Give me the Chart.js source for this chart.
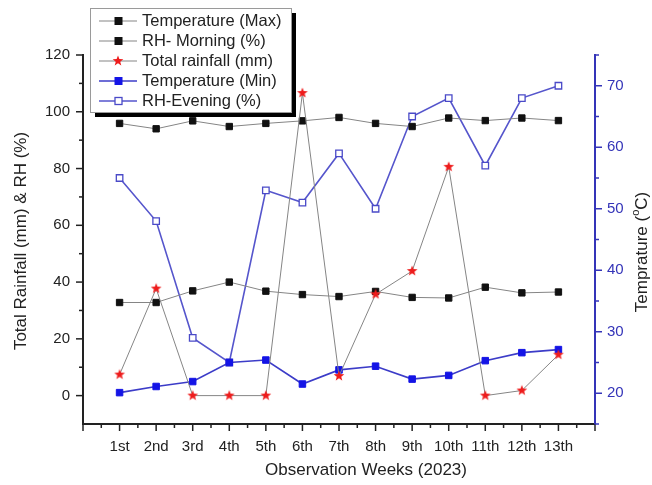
<!DOCTYPE html>
<html>
<head>
<meta charset="utf-8">
<script src="https://cdn.jsdelivr.net/npm/chart.js@4.4.0/dist/chart.umd.min.js"></script>
<style>
  html, body { margin: 0; padding: 0; background: #fff; }
  #wrap { width: 652px; height: 485px; }
</style>
</head>
<body>
<div id="wrap"><canvas id="weatherChart" width="652" height="485"></canvas></div>
<script>
// ==========================================
// DATOS
// ==========================================
const weeks = ['1st', '2nd', '3rd', '4th', '5th', '6th', '7th', '8th', '9th', '10th', '11th', '12th', '13th'];
const rainfall = [7.4, 37.7, 0, 0, 0, 106.6, 6.9, 35.7, 43.9, 80.6, 0, 1.8, 14.4];
const tempMax = [32.8, 32.8, 36.9, 40.0, 36.8, 35.6, 34.9, 36.7, 34.6, 34.4, 38.2, 36.2, 36.5];
const rhMorning = [95.9, 94.0, 96.8, 94.8, 95.9, 96.8, 98.0, 95.9, 94.8, 97.8, 96.9, 97.8, 96.9];
const tempMin = [20.1, 21.1, 21.9, 25.0, 25.4, 21.5, 23.8, 24.4, 22.3, 22.9, 25.3, 26.6, 27.1];
const rhEvening = [55, 48, 29, 25, 53, 51, 59, 50, 65, 68, 57, 68, 70];

const FONT = "'Liberation Sans', Arial, sans-serif";
const BLUE_AXIS = '#3434b8';
const DARK = '#222';
Chart.defaults.font.family = FONT;

function makeStar(r, color) {
    const c = document.createElement('canvas');
    const s = Math.ceil(r * 2) + 2;
    c.width = s;
    c.height = s;
    const g = c.getContext('2d');
    g.fillStyle = color;
    g.beginPath();
    for (let i = 0; i < 10; i++) {
        const rad = i % 2 ? r * 0.42 : r;
        const a = -Math.PI / 2 + i * Math.PI / 5;
        const px = s / 2 + rad * Math.cos(a);
        const py = s / 2 + rad * Math.sin(a);
        if (i === 0) g.moveTo(px, py); else g.lineTo(px, py);
    }
    g.closePath();
    g.fill();
    return c;
}
const star = makeStar(5.6, '#ee1c1c');

const pts = arr => arr.map((v, i) => ({ x: i + 1, y: v }));

// ==========================================
// PLUGINS: marcas de eje, títulos, leyenda
// ==========================================
function seg(ctx, x1, y1, x2, y2) {
    ctx.beginPath();
    ctx.moveTo(x1, y1);
    ctx.lineTo(x2, y2);
    ctx.stroke();
}

const tickMarks = {
    id: 'tickMarks',
    afterDraw(chart) {
        const { ctx, chartArea: a, scales } = chart;
        ctx.save();
        ctx.lineWidth = 1.5;
        ctx.strokeStyle = DARK;
        for (let v = 0; v <= 14; v += 0.5) {
            const x = scales.x.getPixelForValue(v);
            seg(ctx, x, a.bottom, x, a.bottom + (v % 1 === 0 ? 7 : 4));
        }
        for (let v = 0; v <= 120; v += 10) {
            const y = scales.y.getPixelForValue(v);
            seg(ctx, a.left, y, a.left - (v % 20 === 0 ? 7 : 4), y);
        }
        ctx.strokeStyle = BLUE_AXIS;
        for (let v = 15; v <= 75; v += 5) {
            const y = scales.y1.getPixelForValue(v);
            seg(ctx, a.right, y, a.right + (v % 10 === 0 ? 7 : 4), y);
        }
        ctx.restore();
    }
};

const axisTitles = {
    id: 'axisTitles',
    afterDraw(chart) {
        const ctx = chart.ctx;
        ctx.save();
        ctx.fillStyle = DARK;
        ctx.font = '17px ' + FONT;
        ctx.textAlign = 'center';
        ctx.textBaseline = 'middle';
        ctx.fillText('Observation Weeks (2023)', 366, 470);

        ctx.save();
        ctx.translate(21, 241);
        ctx.rotate(-Math.PI / 2);
        ctx.fillText('Total Rainfall (mm) & RH (%)', 0, 0);
        ctx.restore();

        // Temprature (oC) con superíndice
        ctx.save();
        ctx.translate(642, 252);
        ctx.rotate(-Math.PI / 2);
        ctx.textAlign = 'left';
        const p1 = 'Temprature (', sup = 'o', p2 = 'C)';
        const w1 = ctx.measureText(p1).width;
        const w3 = ctx.measureText(p2).width;
        ctx.font = '11px ' + FONT;
        const w2 = ctx.measureText(sup).width;
        const start = -(w1 + w2 + w3) / 2;
        ctx.font = '17px ' + FONT;
        ctx.fillText(p1, start, 0);
        ctx.font = '11px ' + FONT;
        ctx.fillText(sup, start + w1, -6);
        ctx.font = '17px ' + FONT;
        ctx.fillText(p2, start + w1 + w2, 0);
        ctx.restore();

        ctx.restore();
    }
};

const boxLegend = {
    id: 'boxLegend',
    afterDraw(chart) {
        const ctx = chart.ctx;
        const order = [1, 2, 0, 3, 4];
        ctx.save();
        ctx.fillStyle = '#000';
        ctx.fillRect(95, 13, 201, 104);
        ctx.fillStyle = '#fff';
        ctx.fillRect(90, 8, 201, 104);
        ctx.strokeStyle = '#9a9a9a';
        ctx.lineWidth = 1;
        ctx.strokeRect(90.5, 8.5, 201, 104);
        ctx.font = '16.5px ' + FONT;
        ctx.textBaseline = 'middle';
        order.forEach((idx, i) => {
            const ds = chart.data.datasets[idx];
            const y = 21 + i * 20;
            ctx.strokeStyle = ds.borderColor;
            ctx.lineWidth = ds.borderWidth;
            seg(ctx, 99, y, 137, y);
            if (ds.pointStyle === 'rect') {
                ctx.fillStyle = ds.pointBackgroundColor;
                ctx.fillRect(115, y - 3.5, 7, 7);
                ctx.strokeStyle = ds.pointBorderColor;
                ctx.lineWidth = ds.pointBorderWidth;
                ctx.strokeRect(115, y - 3.5, 7, 7);
            } else {
                ctx.drawImage(ds.pointStyle, 118 - ds.pointStyle.width / 2, y - ds.pointStyle.height / 2);
            }
            ctx.fillStyle = DARK;
            ctx.fillText(ds.label, 142, y + 0.5);
        });
        ctx.restore();
    }
};

// ==========================================
// GRÁFICO
// ==========================================
const ctx = document.getElementById('weatherChart').getContext('2d');
const weatherChart = new Chart(ctx, {
    type: 'line',
    data: {
        datasets: [
            {
                label: 'Total rainfall (mm)',
                data: pts(rainfall),
                yAxisID: 'y',
                borderColor: '#858585',
                borderWidth: 1,
                pointStyle: star,
                pointRadius: 5,
                tension: 0
            },
            {
                label: 'Temperature (Max)',
                data: pts(tempMax),
                yAxisID: 'y',
                borderColor: '#858585',
                borderWidth: 1,
                pointStyle: 'rect',
                pointRadius: 4.5,
                pointBackgroundColor: '#111',
                pointBorderColor: '#111',
                pointBorderWidth: 1,
                tension: 0
            },
            {
                label: 'RH- Morning (%)',
                data: pts(rhMorning),
                yAxisID: 'y',
                borderColor: '#858585',
                borderWidth: 1,
                pointStyle: 'rect',
                pointRadius: 4.5,
                pointBackgroundColor: '#111',
                pointBorderColor: '#111',
                pointBorderWidth: 1,
                tension: 0
            },
            {
                label: 'Temperature (Min)',
                data: pts(tempMin),
                yAxisID: 'y1',
                borderColor: '#3c3cc8',
                borderWidth: 1.6,
                pointStyle: 'rect',
                pointRadius: 4.6,
                pointBackgroundColor: '#1414e6',
                pointBorderColor: '#1414e6',
                pointBorderWidth: 1,
                tension: 0
            },
            {
                label: 'RH-Evening (%)',
                data: pts(rhEvening),
                yAxisID: 'y1',
                borderColor: '#5555cc',
                borderWidth: 1.6,
                pointStyle: 'rect',
                pointRadius: 4.6,
                pointBackgroundColor: '#fff',
                pointBorderColor: '#4a4ac8',
                pointBorderWidth: 1.3,
                tension: 0
            }
        ]
    },
    options: {
        responsive: false,
        animation: false,
        layout: { padding: { top: 55, left: 0, right: 0, bottom: 0 } },
        plugins: {
            legend: { display: false },
            tooltip: { enabled: false }
        },
        scales: {
            x: {
                type: 'linear',
                min: 0,
                max: 14,
                afterFit: s => { s.height = 61; },
                ticks: {
                    stepSize: 1,
                    autoSkip: false,
                    maxRotation: 0,
                    padding: 14,
                    color: DARK,
                    font: { size: 15 },
                    callback: v => weeks[v - 1] || ''
                },
                grid: { drawOnChartArea: false, drawTicks: false },
                border: { color: DARK, width: 2 }
            },
            y: {
                position: 'left',
                min: -10,
                max: 120,
                afterFit: s => { s.width = 83; },
                ticks: {
                    stepSize: 20,
                    padding: 13,
                    color: DARK,
                    font: { size: 15 },
                    callback: v => (v < 0 ? '' : v)
                },
                grid: { drawOnChartArea: false, drawTicks: false },
                border: { color: DARK, width: 2 }
            },
            y1: {
                position: 'right',
                min: 15,
                max: 75,
                afterFit: s => { s.width = 57; },
                ticks: {
                    stepSize: 5,
                    autoSkip: false,
                    padding: 12,
                    color: BLUE_AXIS,
                    font: { size: 15 },
                    callback: v => (v % 10 === 0 ? v : '')
                },
                grid: { drawOnChartArea: false, drawTicks: false },
                border: { color: BLUE_AXIS, width: 2 }
            }
        }
    },
    plugins: [tickMarks, axisTitles, boxLegend]
});
</script>
</body>
</html>
